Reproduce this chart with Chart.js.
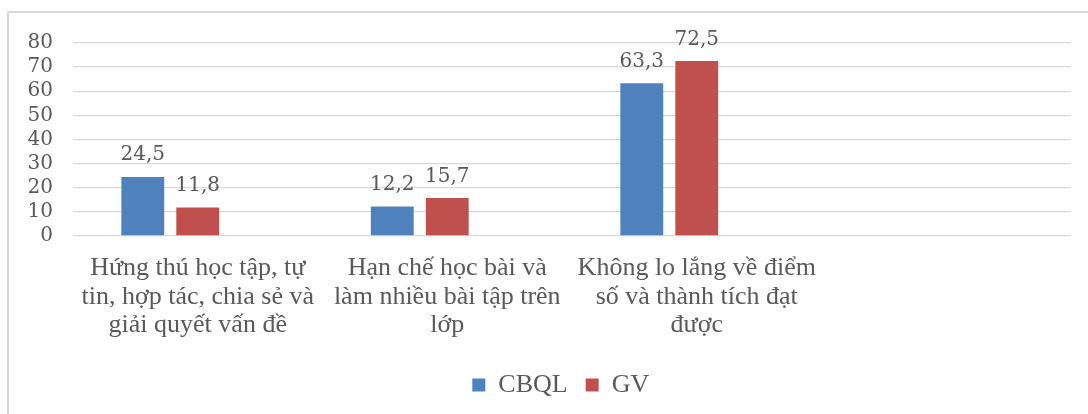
<!DOCTYPE html>
<html>
<head>
<meta charset="utf-8">
<script src="https://cdn.jsdelivr.net/npm/chart.js@4.4.1/dist/chart.umd.min.js"></script>
<style>
  html, body { margin: 0; padding: 0; background: #ffffff; }
  #wrap { position: relative; width: 1088px; height: 414px; overflow: hidden; }
  #frame { position: absolute; left: 7px; top: 11px; right: -5px; bottom: -5px;
           border-left: 2px solid #d9d9d9; border-top: 2px solid #d9d9d9; }
  #c { position: absolute; left: 0; top: 0; }
</style>
</head>
<body>
<div id="wrap">
  <div id="frame"></div>
  <canvas id="c" width="1088" height="414"></canvas>
</div>
<script>
const categories = [
  ["Hứng thú học tập, tự", "tin, hợp tác, chia sẻ và", "giải quyết vấn đề"],
  ["Hạn chế học bài và", "làm nhiều bài tập trên", "lớp"],
  ["Không lo lắng về điểm", "số và thành tích đạt", "được"],
  ""
];
const cbqlValues = [24.5, 12.2, 63.3, null];
const gvValues = [11.8, 15.7, 72.5, null];
const emptySeries = [null, null, null, null];
const yTicks = [0, 10, 20, 30, 40, 50, 60, 70, 80];

const textGray = "#595959";
const gridGray = "#d9d9d9";

Chart.defaults.font.family = "'Liberation Serif', serif";
Chart.defaults.color = textGray;

const valueLabels = {
  id: "valueLabels",
  afterDatasetsDraw(chart) {
    const ctx = chart.ctx;
    ctx.save();
    ctx.font = "20px 'DejaVu Serif'";
    ctx.fillStyle = textGray;
    ctx.textAlign = "center";
    ctx.textBaseline = "alphabetic";
    chart.data.datasets.forEach((ds, di) => {
      if (ds.noLabel) return;
      const meta = chart.getDatasetMeta(di);
      meta.data.forEach((bar, i) => {
        const v = ds.data[i];
        if (v === null || v === undefined) return;
        ctx.fillText(String(v).replace(".", ","), bar.x, bar.y - 16.5);
      });
    });
    ctx.restore();
  }
};

new Chart(document.getElementById("c"), {
  type: "bar",
  data: {
    labels: categories,
    datasets: [
      { label: "CBQL", data: cbqlValues, backgroundColor: "#4F81BD",
        categoryPercentage: 0.661, barPercentage: 0.78 },
      { label: "GV", data: gvValues, backgroundColor: "#C0504D",
        categoryPercentage: 0.661, barPercentage: 0.78 },
      { label: " ", data: emptySeries, backgroundColor: "rgba(0,0,0,0)", borderWidth: 0, noLabel: true,
        categoryPercentage: 0.661, barPercentage: 0.78 }
    ]
  },
  options: {
    responsive: false,
    animation: false,
    layout: { padding: { top: 43, right: 17, left: 0, bottom: 6 } },
    scales: {
      x: {
        grid: { display: false, drawTicks: false },
        border: { display: false },
        ticks: {
          color: textGray,
          font: { family: "'Liberation Serif'", size: 26, lineHeight: 1.1 },
          padding: 18,
          maxRotation: 0,
          autoSkip: false
        },
        afterFit(scale) { scale.height = 118; }
      },
      y: {
        min: 0, max: 80,
        afterBuildTicks(scale) { scale.ticks = yTicks.map(v => ({ value: v })); },
        grid: { color: gridGray, lineWidth: 1.3, drawTicks: false },
        border: { display: false },
        ticks: {
          color: textGray,
          font: { family: "'DejaVu Serif'", size: 20 },
          padding: 20,
          autoSkip: false
        },
        afterFit(scale) { scale.width = 73; }
      }
    },
    plugins: {
      legend: {
        position: "bottom",
        labels: {
          color: textGray,
          font: { family: "'Liberation Serif', serif", size: 26 },
          boxWidth: 13, boxHeight: 13, padding: 18,
          sort: (a, b) => {
            const ka = a.datasetIndex === 2 ? -1 : a.datasetIndex;
            const kb = b.datasetIndex === 2 ? -1 : b.datasetIndex;
            return ka - kb;
          }
        }
      },
      tooltip: { enabled: false }
    }
  },
  plugins: [valueLabels]
});
</script>
</body>
</html>
